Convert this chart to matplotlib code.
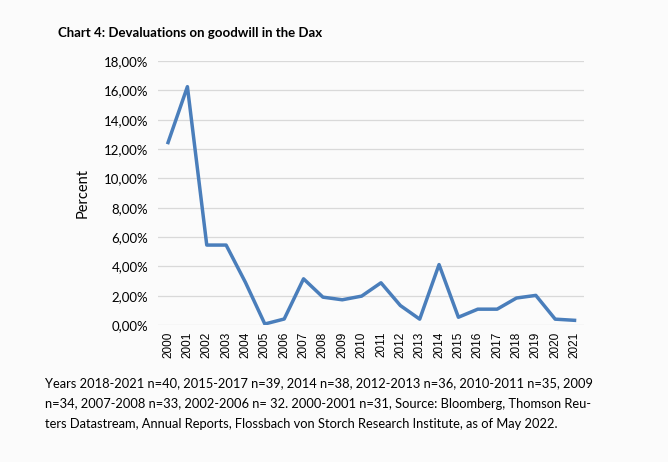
import matplotlib.pyplot as plt
from matplotlib.ticker import FuncFormatter

years = [str(y) for y in range(2000, 2022)]
values = [12.44, 16.25, 5.45, 5.45, 2.9, 0.07, 0.41, 3.15, 1.9, 1.72, 1.97,
          2.88, 1.33, 0.4, 4.12, 0.53, 1.08, 1.08, 1.84, 2.02, 0.4, 0.32]
yticks = [0, 2, 4, 6, 8, 10, 12, 14, 16, 18]

title = "Chart 4: Devaluations on goodwill in the Dax"
footer = ["Years 2018-2021 n=40, 2015-2017 n=39, 2014 n=38, 2012-2013 n=36, 2010-2011 n=35, 2009",
          "n=34, 2007-2008 n=33, 2002-2006 n= 32. 2000-2001 n=31, Source: Bloomberg, Thomson Reu-",
          "ters Datastream, Annual Reports, Flossbach von Storch Research Institute, as of May 2022."]

bg = "#fbfbfb"
fig = plt.figure(figsize=(6.68, 4.62), dpi=100, facecolor=bg)
ax = fig.add_axes([0.2365, 0.2965, 0.6375, 0.5715])
ax.set_facecolor(bg)

x = list(range(len(years)))
ax.plot(x, values, color="#4a7ebb", lw=2.5, solid_joinstyle="round", zorder=3)

ax.set_xlim(-0.52, 21.48)
ax.set_ylim(0, 18)
ax.set_yticks(yticks)
ax.yaxis.set_major_formatter(FuncFormatter(lambda v, p: f"{v:.2f}%".replace(".", ",")))
ax.set_xticks(x)
ax.set_xticklabels(years, rotation=90, fontsize=8.5, family="Liberation Sans")
for t in ax.get_yticklabels():
    t.set_family("Lato")
    t.set_fontsize(9.5)
ax.tick_params(length=0, pad=7)
ax.tick_params(axis="x", pad=5)
ax.grid(axis="y", color="#d9d9d9", lw=0.9)
ax.set_axisbelow(True)
for s in ax.spines.values():
    s.set_visible(False)
ax.set_ylabel("Percent", fontsize=10.5, family="Lato", labelpad=10)

fig.text(58 / 668, 1 - 33 / 462, title, fontsize=9.5, fontweight="bold",
         family="Lato", va="center", ha="left")
for i, line in enumerate(footer):
    fig.text(45 / 668, 1 - (383 + i * 20.5) / 462, line, fontsize=9.3,
             family="Lato", va="center", ha="left")

plt.savefig("out.png", dpi=100, facecolor=bg)
